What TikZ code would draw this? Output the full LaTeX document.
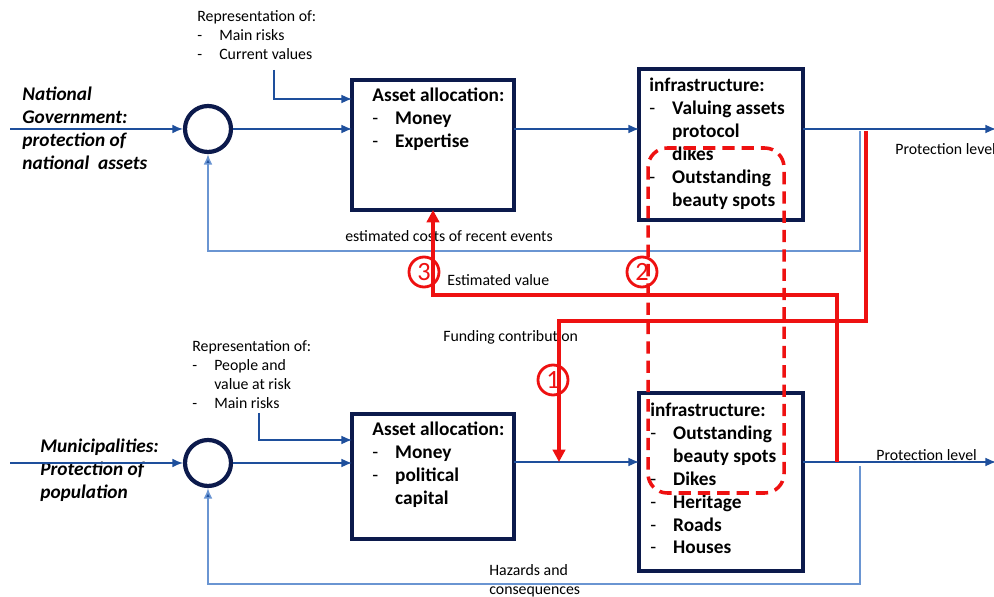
\documentclass[tikz,border=0pt]{standalone}
\usepackage{fontspec}
\setmainfont{Carlito}
\usetikzlibrary{%
    positioning,
    arrows.meta
%   shapes, calc,
%   decorations.markings
}
\definecolor{navy}{HTML}{0C1A4C}
\definecolor{flowblue}{HTML}{1E4F9C}
\definecolor{fbblue}{HTML}{6A95D2}
\definecolor{alarm}{HTML}{EE1111}

\newcommand{\itm}{\makebox[13pt][l]{\mdseries -}}
\newcommand{\cnt}{\hspace*{13pt}}

\tikzset{
    box/.style = {
        rectangle, draw=navy, line width=1.8pt,
        outer sep=0pt,
    },
    sumnode/.style = {
        circle, draw=navy, line width=2.4pt,
        minimum size=0.92cm, inner sep=0pt,
    },
    listtext/.style = {
        anchor=north west, inner sep=0pt, align=left,
        font=\fontsize{11}{13}\selectfont\bfseries,
    },
    actor/.style = {
        anchor=north west, inner sep=0pt, align=left,
        font=\fontsize{11}{13}\selectfont\bfseries\itshape,
    },
    note/.style = {
        inner sep=0pt, align=left,
        font=\fontsize{9}{10.8}\selectfont,
    },
    flow/.style = {
        draw=flowblue, line width=0.8pt,
        -{Latex[length=6pt,width=5pt]},
    },
    fbline/.style = {
        draw=fbblue, line width=0.9pt,
        -{Latex[length=6pt,width=5pt,fill=flowblue]},
    },
    redline/.style = {
        draw=alarm, line width=1.9pt,
        -{Triangle[length=7pt,width=7pt]},
    },
    reddash/.style = {
        draw=alarm, line width=2pt,
        dash pattern=on 7pt off 4pt,
        rounded corners=11pt,
    },
    marker/.style = {
        circle, draw=alarm, line width=1.6pt, text=alarm,
        minimum size=0.6cm, inner sep=0pt,
        font=\fontsize{15}{15}\selectfont,
    },
}

\begin{document}
\begin{tikzpicture}[x=0.02cm, y=-0.02cm]
    \useasboundingbox (0,0) rectangle (994,597);

    % national government loop
    \node[sumnode] (gsum) at (208,129) {};
    \node[
        box,
        minimum width = 3.24cm,
        minimum height = 2.6cm
    ] (gasset) at (433,145) {};
    \node[
        box,
        minimum width = 3.28cm,
        minimum height = 3.02cm
    ] (ginfra) at (721,144.5) {};
    \node[actor] (gactor) at (22,87)
        {National\\Government:\\protection of\\national~ assets};
    \node[note, anchor=north west] (grepr) at (197,10)
        {Representation of:\\\makebox[12.5pt][l]{-}Main risks\\\makebox[12.5pt][l]{-}Current values};
    \node[listtext] (galloc) at (372,88)
        {Asset allocation:\\\itm Money\\\itm Expertise};
    \node[listtext] (gitems) at (649,78)
        {infrastructure:\\\itm Valuing assets\\\cnt protocol\\\cnt dikes\\\itm Outstanding\\\cnt beauty spots};

    % municipality loop
    \node[sumnode] (msum) at (208,463) {};
    \node[
        box,
        minimum width = 3.24cm,
        minimum height = 2.5cm
    ] (masset) at (433,476.5) {};
    \node[
        box,
        minimum width = 3.28cm,
        minimum height = 3.56cm
    ] (minfra) at (721,482) {};
    \node[actor] (mactor) at (40,439)
        {Municipalities:\\Protection of\\population};
    \node[note, anchor=north west] (mrepr) at (192,340)
        {Representation of:\\\makebox[12.5pt][l]{-}People and\\\hspace*{12.5pt}value at risk\\\makebox[12.5pt][l]{-}Main risks};
    \node[listtext] (malloc) at (372,422)
        {Asset allocation:\\\itm Money\\\itm political\\\cnt capital};
    \node[listtext] (mitems) at (650,403)
        {infrastructure:\\\itm Outstanding\\\cnt beauty spots\\\itm Dikes\\\itm Heritage\\\itm Roads\\\itm Houses};

    % labels
    \node[note, anchor=center] (lcost) at (449,236) {estimated costs of recent events};
    \node[note, anchor=west] (lvalue) at (447,280) {Estimated value};
    \node[note, anchor=west] (lfund) at (443,337) {Funding contribution};
    \node[note, anchor=west] (gprot) at (895,149) {Protection level};
    \node[note, anchor=west] (mprot) at (876,455) {Protection level};
    \node[note, anchor=north west] (lhazard) at (489,564) {Hazards and\\consequences};

    % coordinates
    \coordinate (gin) at (10,129);
    \coordinate (gout) at (996,129);
    \coordinate (greptip) at (274,70);
    \coordinate (gtap) at (860,131);
    \coordinate (min) at (10,463);
    \coordinate (mout) at (996,462);
    \coordinate (mreptip) at (259,413);
    \coordinate (mtap) at (860,466);
    \coordinate (vtap) at (837,462);
    \coordinate (ftap) at (866,131);
    \coordinate (mjoin) at (559,462);

    % blue flows
    \draw[flow] (gin) -- (gsum);
    \draw[flow] (gsum) -- (gsum -| gasset.west);
    \draw[flow] (greptip) |- (gasset.west |- 0,99);
    \draw[flow] (gasset.east |- gsum) -- (ginfra.west |- gsum);
    \draw[flow] (ginfra.east |- gsum) -- (gout);
    \draw[fbline] (gtap) |- (gsum |- 0,251) -- (gsum.south);

    \draw[flow] (min) -- (msum);
    \draw[flow] (msum) -- (msum -| masset.west);
    \draw[flow] (mreptip) |- (masset.west |- 0,440);
    \draw[flow] (masset.east |- mout) -- (minfra.west |- mout);
    \draw[flow] (minfra.east |- mout) -- (mout);
    \draw[fbline] (mtap) |- (msum |- 0,584) -- (msum.south);

    % red links
    \draw[reddash] (648,148) rectangle (784,493);
    \draw[redline] (vtap) |- (gasset.south |- 0,295) -- (gasset.south);
    \draw[redline] (ftap) |- (mjoin |- 0,321) -- (mjoin);
    \node[marker] (m3) at (424,272) {3};
    \node[marker] (m2) at (642,272) {2};
    \node[marker] (m1) at (553,380) {1};
\end{tikzpicture}
\end{document}
